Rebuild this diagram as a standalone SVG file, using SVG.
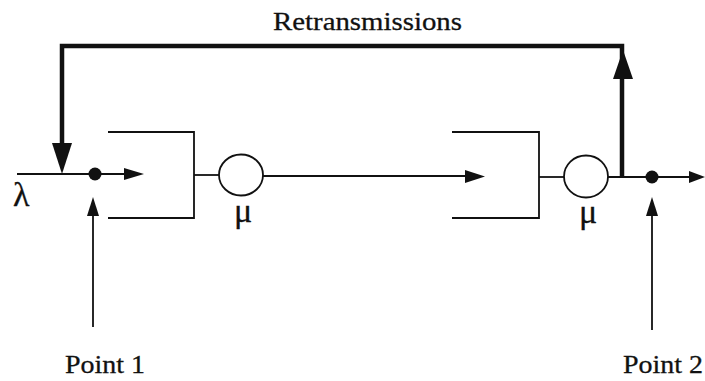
<svg xmlns="http://www.w3.org/2000/svg" width="705" height="381" viewBox="0 0 705 381">
<style>
.thin{stroke:#111;stroke-width:1.8;fill:none}
.thick{stroke:#111;stroke-width:4.5;fill:none;stroke-linejoin:miter}
.head{fill:#111}
.lbl{font-family:"Liberation Serif","Times New Roman",serif;font-size:26px;fill:#111;stroke:#111;stroke-width:0.3}
.greek{font-size:34px}
.srv{fill:#fff;stroke:#111;stroke-width:1.8}
</style>
<rect width="705" height="381" fill="#fff"/>
<g id="connectors">
<path class="thick" d="M622,177 V46 H62 V148"/>
<polygon class="head" points="52,143 72,143 62,174"/>
<polygon class="head" points="613,79 633,79 623,50"/>
<path class="thin" d="M17,174 H128"/>
<polygon class="head" points="124,168 144,174 124,180"/>
<path class="thin" d="M194,175 H220"/>
<path class="thin" d="M263,176 H468"/>
<polygon class="head" points="465,170 485,176.5 465,183"/>
<path class="thin" d="M539,177 H565"/>
<path class="thin" d="M607,177 H692"/>
<polygon class="head" points="689,171 705,177 689,183"/>
<path class="thin" d="M93,327 V212"/>
<polygon class="head" points="87,216 99,216 93,197"/>
<path class="thin" d="M652,330 V212"/>
<polygon class="head" points="646,216 658,216 652,197"/>
</g>
<g id="queue1">
<path class="thin" d="M108,132 H194 V218 H108"/>
</g>
<g id="server1">
<ellipse class="srv" cx="241" cy="175" rx="22" ry="20.5"/>
<text class="lbl greek" x="243" y="222" text-anchor="middle">μ</text>
</g>
<g id="queue2">
<path class="thin" d="M452,132 H539 V218 H452"/>
</g>
<g id="server2">
<ellipse class="srv" cx="586" cy="176.5" rx="22" ry="21"/>
<text class="lbl greek" x="588" y="223" text-anchor="middle">μ</text>
</g>
<g id="point1">
<circle class="head" cx="95" cy="174" r="6.5"/>
<text class="lbl" x="65" y="373" textLength="80" lengthAdjust="spacingAndGlyphs">Point 1</text>
</g>
<g id="point2">
<circle class="head" cx="652" cy="177" r="6.5"/>
<text class="lbl" x="623" y="373" textLength="80" lengthAdjust="spacingAndGlyphs">Point 2</text>
</g>
<g id="input">
<text class="lbl greek" x="13" y="206">λ</text>
</g>
<g id="retransmissions">
<text class="lbl" x="273" y="30" textLength="189" lengthAdjust="spacingAndGlyphs">Retransmissions</text>
</g>
</svg>
